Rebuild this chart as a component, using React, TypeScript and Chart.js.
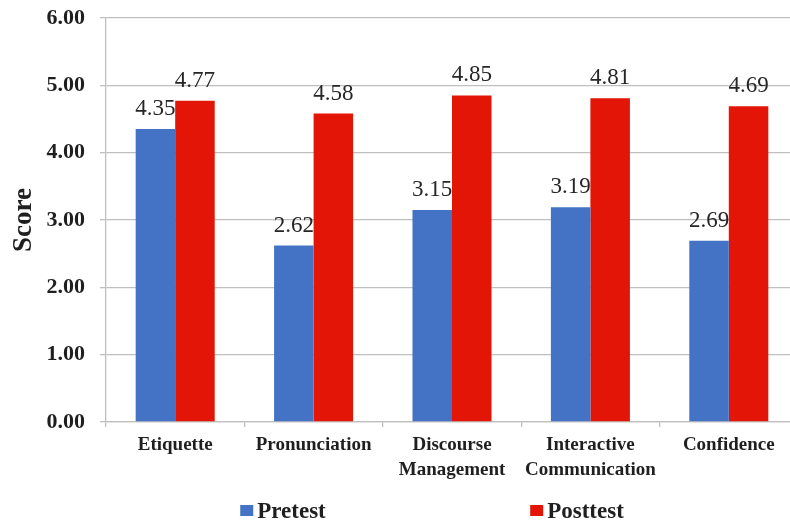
import React, { useEffect, useRef } from 'react';
import { Chart, registerables } from 'chart.js';

Chart.register(...registerables);

const categories: (string | string[])[] = [
  'Etiquette',
  'Pronunciation',
  ['Discourse', 'Management'],
  ['Interactive', 'Communication'],
  'Confidence',
];
const pretest = [4.35, 2.62, 3.15, 3.19, 2.69];
const posttest = [4.77, 4.58, 4.85, 4.81, 4.69];
const seriesNames = ['Pretest', 'Posttest'];
const seriesColors = ['#4472C4', '#E31506'];
const yMin = 0;
const yMax = 6;
const yStep = 1;
const yTitle = 'Score';

const SERIF = "'Liberation Serif', 'Times New Roman', serif";
const GRID = '#bfbfbf';
const TEXT = '#1f1f1f';

const valueLabels = {
  id: 'valueLabels',
  afterDatasetsDraw(chart: any) {
    const { ctx } = chart;
    ctx.save();
    ctx.font = `23px ${SERIF}`;
    ctx.fillStyle = '#262626';
    ctx.textAlign = 'center';
    ctx.textBaseline = 'alphabetic';
    chart.data.datasets.forEach((ds: any, i: number) => {
      const meta = chart.getDatasetMeta(i);
      meta.data.forEach((el: any, j: number) => {
        ctx.fillText(Number(ds.data[j]).toFixed(2), el.x, el.y - 14);
      });
    });
    ctx.restore();
  },
};

const bottomLegend = {
  id: 'bottomLegend',
  afterDraw(chart: any) {
    const { ctx, chartArea } = chart;
    const cx = (chartArea.left + chartArea.right) / 2 - 22;
    const y = 511;
    const spacing = 294;
    ctx.save();
    ctx.font = `bold 23px ${SERIF}`;
    ctx.textBaseline = 'middle';
    ctx.textAlign = 'left';
    const n = chart.data.datasets.length;
    chart.data.datasets.forEach((ds: any, i: number) => {
      const tw = ctx.measureText(ds.label).width;
      const box = 13;
      const gap = 4;
      const w = box + gap + tw;
      const center = cx + (i - (n - 1) / 2) * spacing;
      const x0 = center - w / 2;
      ctx.fillStyle = ds.backgroundColor;
      ctx.fillRect(x0, y - 6, box, 11);
      ctx.fillStyle = TEXT;
      ctx.fillText(ds.label, x0 + box + gap, y + 1);
    });
    ctx.restore();
  },
};

export default function App() {
  const ref = useRef<HTMLCanvasElement | null>(null);
  useEffect(() => {
    if (!ref.current) return;
    const chart = new Chart(ref.current, {
      type: 'bar',
      data: {
        labels: categories,
        datasets: [
          { label: seriesNames[0], data: pretest, backgroundColor: seriesColors[0], borderWidth: 0 },
          { label: seriesNames[1], data: posttest, backgroundColor: seriesColors[1], borderWidth: 0 },
        ],
      },
      options: {
        animation: false,
        responsive: false,
        maintainAspectRatio: false,
        layout: { padding: { left: 0, right: 12, top: 18, bottom: 0 } },
        datasets: { bar: { categoryPercentage: 0.571, barPercentage: 1.0 } },
        plugins: {
          legend: { display: false },
          tooltip: { enabled: false },
        },
        scales: {
          x: {
            offset: true,
            grid: {
              display: true,
              drawOnChartArea: false,
              drawTicks: true,
              tickLength: 5,
              color: GRID,
              lineWidth: 1.3,
            },
            border: { color: GRID, width: 1.3 },
            ticks: {
              font: { family: SERIF, size: 19, weight: 'bold', lineHeight: 1.3 },
              color: TEXT,
              padding: 6,
              maxRotation: 0,
              autoSkip: false,
            },
            afterFit(s: any) {
              s.height = 101;
              s.paddingLeft = 0;
              s.paddingRight = 0;
            },
          },
          y: {
            min: yMin,
            max: yMax,
            ticks: {
              stepSize: yStep,
              callback: (v: any) => Number(v).toFixed(2),
              font: { family: SERIF, size: 22, weight: 'bold' },
              color: TEXT,
              padding: 15,
            },
            grid: { color: GRID, lineWidth: 1.3, drawTicks: true, tickLength: 6 },
            border: { color: GRID, width: 1.3 },
            title: {
              display: true,
              text: yTitle,
              font: { family: SERIF, size: 27, weight: 'bold', lineHeight: 1.2 },
              color: TEXT,
              padding: { top: 8, bottom: 0 },
            },
            afterFit(s: any) {
              s.width = 106;
              s.paddingTop = 0;
              s.paddingBottom = 0;
            },
          },
        },
      },
      plugins: [valueLabels, bottomLegend],
    } as any);
    return () => chart.destroy();
  }, []);
  return (
    <div style={{ position: 'fixed', left: 0, top: 0, width: 810, height: 523, background: '#fff' }}>
      <canvas ref={ref} width={810} height={523} style={{ display: 'block' }} />
    </div>
  );
}
